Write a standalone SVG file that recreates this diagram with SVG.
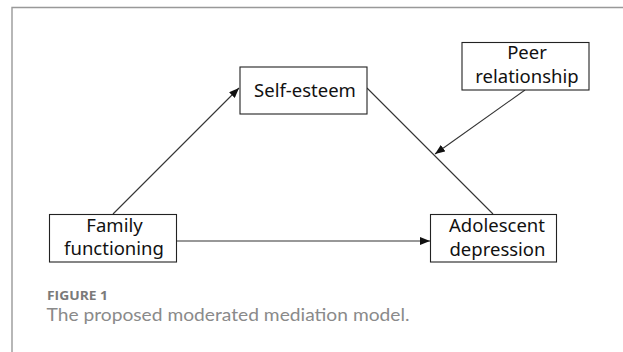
<svg xmlns="http://www.w3.org/2000/svg" width="623" height="352" viewBox="0 0 623 352">
<style>
.box{fill:#fff;stroke:#222;stroke-width:1.1}
.lbl{font-family:"Noto Sans","DejaVu Sans",sans-serif;font-size:18.5px;fill:#111;text-anchor:middle}
.edge{stroke:#333;stroke-width:1.1;fill:none}
.frame{stroke:#999;stroke-width:1.4;fill:none}
</style>
<defs>
<marker id="ah" markerWidth="10" markerHeight="8" refX="10" refY="4" orient="auto" markerUnits="userSpaceOnUse">
<path d="M0,0 L10,4 L0,8 Z" fill="#111"/>
</marker>
</defs>
<rect width="623" height="352" fill="#fff"/>
<path class="frame" d="M12,352 V7.5 H623"/>
<g id="connectors">
<line class="edge" x1="113" y1="214" x2="239" y2="88" marker-end="url(#ah)"/>
<line class="edge" x1="177" y1="241" x2="430" y2="241" marker-end="url(#ah)"/>
<line class="edge" x1="367" y1="88" x2="493" y2="214"/>
<line class="edge" x1="525" y1="90" x2="435" y2="154" marker-end="url(#ah)"/>
</g>
<g id="self-esteem">
<rect class="box" x="240" y="67" width="127" height="47"/>
<text class="lbl" x="305" y="97">Self-esteem</text>
</g>
<g id="peer-relationship">
<rect class="box" x="462" y="42.5" width="127" height="47.5"/>
<text class="lbl" x="527" y="59">Peer</text>
<text class="lbl" x="527" y="82.5">relationship</text>
</g>
<g id="family-functioning">
<rect class="box" x="49.5" y="214.5" width="127" height="47.5"/>
<text class="lbl" x="114.5" y="231.5">Family</text>
<text class="lbl" x="114" y="255">functioning</text>
</g>
<g id="adolescent-depression">
<rect class="box" x="430.5" y="214.5" width="126" height="47.5"/>
<text class="lbl" x="497" y="232">Adolescent</text>
<text class="lbl" x="497.5" y="255.5">depression</text>
</g>
<g id="caption">
<text x="47" y="300" font-family="'Open Sans',sans-serif" font-weight="bold" font-size="13" fill="#7a7a7a" textLength="61" lengthAdjust="spacingAndGlyphs">FIGURE 1</text>
<text x="46.5" y="320.7" font-family="Lato,'Open Sans',sans-serif" font-size="17" fill="#8a8a8a" textLength="363" lengthAdjust="spacingAndGlyphs">The proposed moderated mediation model.</text>
</g>
</svg>
